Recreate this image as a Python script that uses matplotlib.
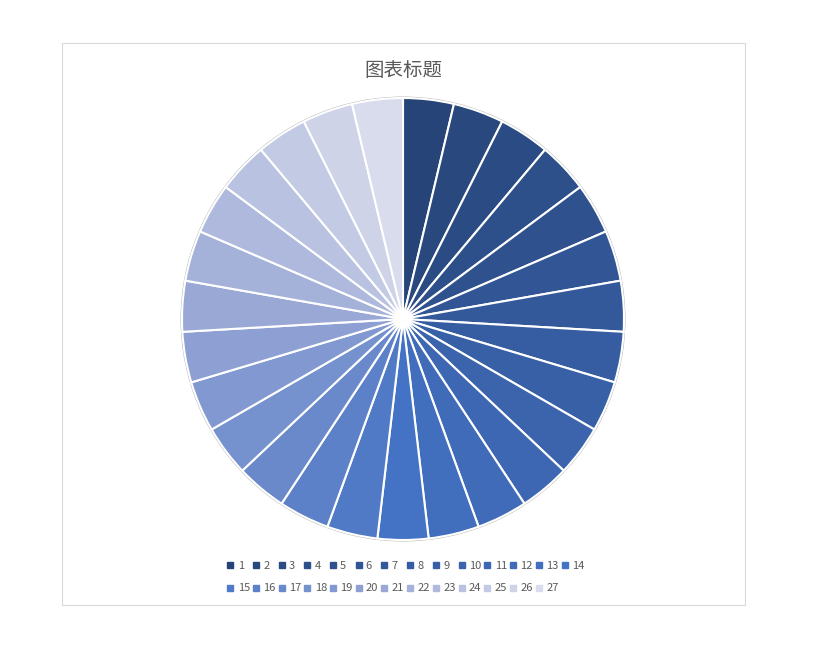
import matplotlib
matplotlib.use("Agg")
import matplotlib.pyplot as plt
import numpy as np
from matplotlib.colors import to_rgb
from matplotlib.lines import Line2D
from matplotlib.patches import Rectangle, Circle

plt.rcParams['font.family'] = ['Noto Sans CJK SC', 'DejaVu Sans']

# data
labels = [str(i) for i in range(1, 28)]
values = [1] * 27
title = "图表标题"

# monochromatic blue palette: dark -> base -> lavender -> light
anchor_idx = [0, 13, 20, 26]
anchor_col = [np.array(to_rgb(c)) for c in ["#264478", "#4472C4", "#9AA8D5", "#D8DCEC"]]
n = len(values)
colors = []
for i in range(n):
    for k in range(len(anchor_idx) - 1):
        a, b = anchor_idx[k], anchor_idx[k + 1]
        if a <= i <= b:
            t = (i - a) / (b - a)
            colors.append(tuple(anchor_col[k] + (anchor_col[k + 1] - anchor_col[k]) * t))
            break

W, H = 835, 645
fig = plt.figure(figsize=(W / 100, H / 100), dpi=100)

# chart frame
fig.patches.append(Rectangle((62 / W, 1 - 605 / H), (745 - 62) / W, (605 - 43) / H,
                             transform=fig.transFigure, fill=False,
                             edgecolor="#D9D9D9", linewidth=0.8))

cx, cy, r = 403, 319, 221
ax = fig.add_axes([(cx - r) / W, (H - cy - r) / H, 2 * r / W, 2 * r / H])
ax.add_patch(Circle((0, 0), 1.004, fill=False, edgecolor="#B0B0B0",
                    linewidth=0.8, clip_on=False))
wedges, _ = ax.pie(values, colors=colors, startangle=90, counterclock=False,
                   radius=1.0, wedgeprops=dict(edgecolor="white", linewidth=1.5))
for w in wedges:
    w.set_clip_on(False)
ax.set_xlim(-1, 1)
ax.set_ylim(-1, 1)
ax.set_aspect("equal")
ax.axis("off")

fig.text(403 / W, 1 - 70 / H, title, ha="center", va="center",
         fontsize=14, color="#595959")

# legend: two rows, 14 columns (column-major order for matplotlib)
handles = [Line2D([], [], linestyle="", marker="s", markersize=4,
                  markerfacecolor=c, markeredgecolor=c) for c in colors]
order = []
for j in range(14):
    order.append(j)
    if j + 14 < n:
        order.append(j + 14)
leg = fig.legend([handles[i] for i in order], [labels[i] for i in order],
                 ncol=14, loc="center", bbox_to_anchor=(406 / W, 1 - 577 / H),
                 frameon=False, fontsize=8, handlelength=0.5,
                 handletextpad=0.4, columnspacing=0.3, labelspacing=1.15,
                 borderpad=0)
for t in leg.get_texts():
    t.set_color("#595959")

fig.savefig("out.png", dpi=100)
